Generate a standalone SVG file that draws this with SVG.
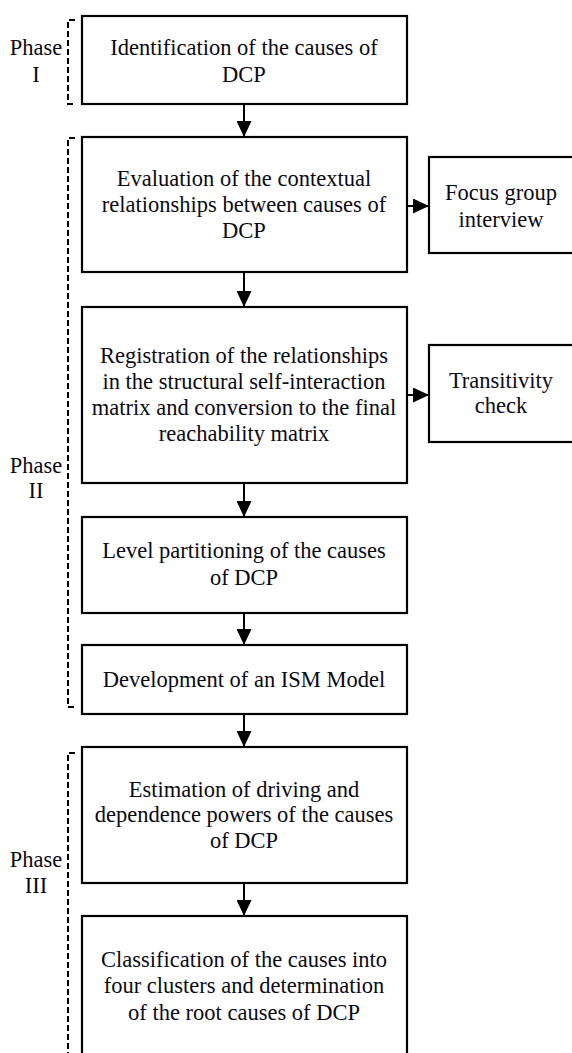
<svg xmlns="http://www.w3.org/2000/svg" width="572" height="1053" viewBox="0 0 572 1053">
<style>
.box{fill:#fff;stroke:#000;stroke-width:2.2}
.t{font-family:'Liberation Serif','Times New Roman',Times,serif;font-size:22.5px;fill:#0a0a14;text-anchor:middle}
.br{fill:none;stroke:#000;stroke-width:2;stroke-dasharray:6 3}
.ar{stroke:#000;stroke-width:2;fill:none}
</style>
<defs>
<marker id="ah" markerWidth="16" markerHeight="15" refX="16" refY="7.5" orient="auto" markerUnits="userSpaceOnUse">
<path d="M0,0 L16,7.5 L0,15 Z" fill="#000"/>
</marker>
</defs>
<rect width="572" height="1053" fill="#fff"/>
<g id="phase1">
<path class="br" d="M75,20 H68 V104 H75"/>
<text class="t" x="36" y="55">Phase</text>
<text class="t" x="36" y="82">I</text>
</g>
<g id="phase2">
<path class="br" d="M75,138 H68 V707 H75"/>
<text class="t" x="36" y="473">Phase</text>
<text class="t" x="36" y="498">II</text>
</g>
<g id="phase3">
<path class="br" d="M75,753 H68 V1060"/>
<text class="t" x="36" y="867">Phase</text>
<text class="t" x="36" y="893">III</text>
</g>
<g id="connectors">
<path class="ar" d="M244,104 V137" marker-end="url(#ah)"/>
<path class="ar" d="M244,272 V307" marker-end="url(#ah)"/>
<path class="ar" d="M244,483 V517" marker-end="url(#ah)"/>
<path class="ar" d="M244,613 V645" marker-end="url(#ah)"/>
<path class="ar" d="M244,714 V747" marker-end="url(#ah)"/>
<path class="ar" d="M244,883 V916" marker-end="url(#ah)"/>
<path class="ar" d="M407,206 H429" marker-end="url(#ah)"/>
<path class="ar" d="M407,395 H429" marker-end="url(#ah)"/>
</g>
<g id="n1">
<rect class="box" x="82" y="16" width="325" height="88"/>
<text class="t" x="244" y="55">Identification of the causes of</text>
<text class="t" x="244" y="82">DCP</text>
</g>
<g id="n2">
<rect class="box" x="82" y="137" width="325" height="135"/>
<text class="t" x="244" y="186">Evaluation of the contextual</text>
<text class="t" x="244" y="212">relationships between causes of</text>
<text class="t" x="244" y="238">DCP</text>
</g>
<g id="n2b">
<rect class="box" x="429" y="157" width="160" height="96"/>
<text class="t" x="501" y="200">Focus group</text>
<text class="t" x="501" y="227">interview</text>
</g>
<g id="n3">
<rect class="box" x="82" y="307" width="325" height="176"/>
<text class="t" x="244" y="363">Registration of the relationships</text>
<text class="t" x="244" y="389">in the structural self-interaction</text>
<text class="t" x="244" y="415">matrix and conversion to the final</text>
<text class="t" x="244" y="441">reachability matrix</text>
</g>
<g id="n3b">
<rect class="box" x="429" y="345" width="160" height="97"/>
<text class="t" x="501" y="388">Transitivity</text>
<text class="t" x="501" y="413">check</text>
</g>
<g id="n4">
<rect class="box" x="82" y="517" width="325" height="96"/>
<text class="t" x="244" y="558">Level partitioning of the causes</text>
<text class="t" x="244" y="585">of DCP</text>
</g>
<g id="n5">
<rect class="box" x="82" y="645" width="325" height="69"/>
<text class="t" x="244" y="687">Development of an ISM Model</text>
</g>
<g id="n6">
<rect class="box" x="82" y="747" width="325" height="136"/>
<text class="t" x="244" y="797">Estimation of driving and</text>
<text class="t" x="244" y="822">dependence powers of the causes</text>
<text class="t" x="244" y="848">of DCP</text>
</g>
<g id="n7">
<rect class="box" x="82" y="916" width="325" height="160"/>
<text class="t" x="244" y="967">Classification of the causes into</text>
<text class="t" x="244" y="993">four clusters and determination</text>
<text class="t" x="244" y="1020">of the root causes of DCP</text>
</g>
</svg>
